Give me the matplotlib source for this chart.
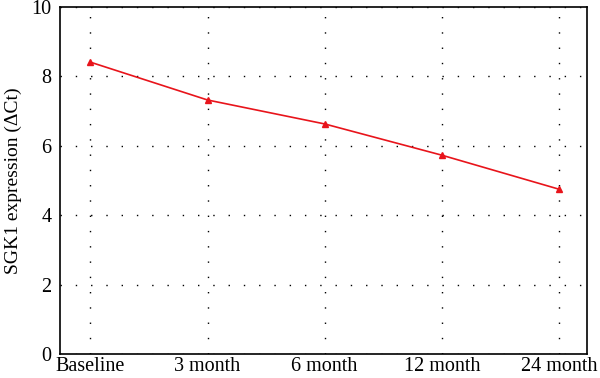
import matplotlib
matplotlib.use("Agg")
import matplotlib.pyplot as plt

categories = ["Baseline", "3 month", "6 month", "12 month", "24 month"]
values = [8.41, 7.32, 6.63, 5.73, 4.75]

plt.rcParams['font.family'] = ['Liberation Serif', 'DejaVu Serif']
fig = plt.figure(figsize=(6, 3.78), dpi=100)
ax = fig.add_axes([60/600, 24/378, 527/600, 347/378])
x = list(range(len(categories)))
ax.plot(x, values, color='#e8141b', lw=1.2, marker='^', markersize=5, zorder=3)
ax.set_xlim(-0.26, 4.24)
ax.set_ylim(0, 10)
ax.set_xticks(x)
ax.set_xticklabels(categories)
ax.set_yticks([0, 2, 4, 6, 8, 10])
ax.tick_params(length=0, labelsize=14.5)
ax.tick_params(axis='x', pad=2)
ax.tick_params(axis='y', pad=6)
ax.grid(True, color='black', linestyle=(0, (1, 10)), linewidth=1.0)
for s in ax.spines.values():
    s.set_linewidth(1.2)
ax.set_ylabel("SGK1 expression (ΔCt)", fontsize=14, labelpad=7,
              family=['Liberation Serif', 'DejaVu Sans'])
fig.savefig("out.png", dpi=100)
